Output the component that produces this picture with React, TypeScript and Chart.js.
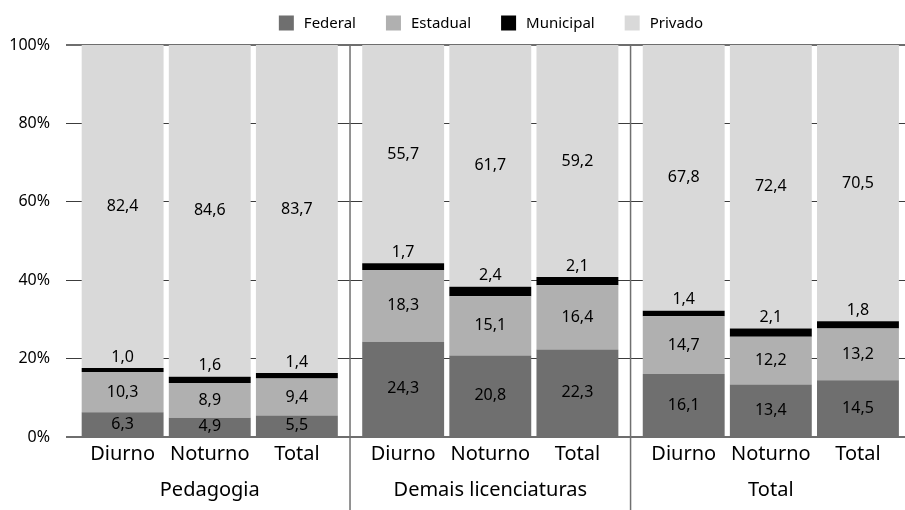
import React, { useEffect, useRef } from 'react';
import { Chart, registerables } from 'chart.js';

Chart.register(...registerables);

// ---- data ----
const groups = ['Pedagogia', 'Demais licenciaturas', 'Total'];
const periods = ['Diurno', 'Noturno', 'Total'];
const seriesNames = ['Federal', 'Estadual', 'Municipal', 'Privado'];
const federal = [6.3, 4.9, 5.5, 24.3, 20.8, 22.3, 16.1, 13.4, 14.5];
const estadual = [10.3, 8.9, 9.4, 18.3, 15.1, 16.4, 14.7, 12.2, 13.2];
const municipal = [1.0, 1.6, 1.4, 1.7, 2.4, 2.1, 1.4, 2.1, 1.8];
const privado = [82.4, 84.6, 83.7, 55.7, 61.7, 59.2, 67.8, 72.4, 70.5];
const yTickValues = [0, 20, 40, 60, 80, 100];

// ---- styling / layout constants ----
const FONT = '"Noto Sans", "Open Sans", sans-serif';
const COLORS = ['#6f6f6f', '#b0b0b0', '#000000', '#d9d9d9'];
const GROUP_GAP = 0.22;
const X_PAD_LEFT = 0.65;
const X_PAD_RIGHT = 0.54;
const W = 905;
const H = 510;

const groupSpan = periods.length + GROUP_GAP;
const xPositions: number[] = [];
const xLabels: string[] = [];
groups.forEach((g, gi) => {
  periods.forEach((p, pi) => {
    xPositions.push(gi * groupSpan + pi);
    xLabels.push(p);
  });
});
const xMin = -X_PAD_LEFT;
const xMax = (groups.length - 1) * groupSpan + periods.length - 1 + X_PAD_RIGHT;

const fmt = (v: number) => v.toFixed(1).replace('.', ',');

const series = [federal, estadual, municipal, privado];

const extrasPlugin = {
  id: 'extras',
  afterDatasetsDraw(chart: any) {
    const ctx = chart.ctx;
    ctx.save();
    ctx.font = `16px ${FONT}`;
    ctx.fillStyle = '#000';
    ctx.textAlign = 'center';
    ctx.textBaseline = 'middle';
    chart.data.datasets.forEach((ds: any, di: number) => {
      const meta = chart.getDatasetMeta(di);
      meta.data.forEach((el: any, i: number) => {
        const { x, y, base } = el.getProps(['x', 'y', 'base'], true);
        const v = series[di][i];
        let ly = (y + base) / 2;
        if (di === 2) ly = y - 11;
        ctx.fillText(fmt(v), x, ly);
      });
    });
    ctx.restore();
  },
  afterDraw(chart: any) {
    const ctx = chart.ctx;
    const xs = chart.scales.x;
    const area = chart.chartArea;
    ctx.save();
    // group separators
    ctx.strokeStyle = '#707070';
    ctx.lineWidth = 1.5;
    for (let gi = 0; gi < groups.length - 1; gi++) {
      const last = gi * groupSpan + periods.length - 1;
      const next = (gi + 1) * groupSpan;
      const px = xs.getPixelForValue((last + next) / 2);
      ctx.beginPath();
      ctx.moveTo(px, area.top);
      ctx.lineTo(px, H);
      ctx.stroke();
    }
    // group labels
    ctx.font = `20px ${FONT}`;
    ctx.fillStyle = '#000';
    ctx.textAlign = 'center';
    ctx.textBaseline = 'middle';
    groups.forEach((g, gi) => {
      const mid = gi * groupSpan + (periods.length - 1) / 2;
      ctx.fillText(g, xs.getPixelForValue(mid), 490);
    });
    // legend
    ctx.font = `15px ${FONT}`;
    const box = 15;
    const gapText = 10;
    const gapItem = 30;
    const widths = seriesNames.map((n) => ctx.measureText(n).width);
    const total = widths.reduce((a, w) => a + box + gapText + w, 0) + gapItem * (seriesNames.length - 1);
    let cx = 491 - total / 2;
    const cy = 23;
    ctx.textAlign = 'left';
    seriesNames.forEach((n, i) => {
      ctx.fillStyle = COLORS[i];
      ctx.fillRect(cx, cy - box / 2, box, box);
      cx += box + gapText;
      ctx.fillStyle = '#000';
      ctx.fillText(n, cx, cy + 0.5);
      cx += widths[i] + gapItem;
    });
    ctx.restore();
  },
};

export default function App() {
  const ref = useRef<HTMLCanvasElement | null>(null);
  useEffect(() => {
    if (!ref.current) return;
    const chart = new Chart(ref.current, {
      type: 'bar',
      data: {
        datasets: seriesNames.map((name, si) => ({
          label: name,
          data: series[si].map((v, i) => ({ x: xPositions[i], y: v })),
          backgroundColor: COLORS[si],
          borderWidth: 0,
          categoryPercentage: 0.94,
          barPercentage: 1,
        })),
      },
      options: {
        responsive: false,
        animation: false,
        events: [],
        layout: { padding: { left: 0, right: 0, top: 45, bottom: 0 } },
        plugins: { legend: { display: false }, tooltip: { enabled: false } },
        scales: {
          x: {
            type: 'linear',
            stacked: true,
            offset: false,
            min: xMin,
            max: xMax,
            grid: { display: false, drawTicks: false, offset: false },
            border: { display: false },
            afterBuildTicks: (scale: any) => {
              scale.ticks = xPositions.map((v) => ({ value: v }));
            },
            afterFit: (scale: any) => {
              scale.height = H - 437;
            },
            ticks: {
              autoSkip: false,
              maxRotation: 0,
              padding: 5,
              color: '#000',
              font: { family: FONT, size: 20 },
              callback: (_v: any, i: number) => xLabels[i],
            },
          },
          y: {
            stacked: true,
            min: 0,
            max: 100,
            z: 1,
            afterBuildTicks: (scale: any) => {
              scale.ticks = yTickValues.map((v) => ({ value: v }));
            },
            afterFit: (scale: any) => {
              scale.width = 66;
            },
            grid: {
              drawTicks: false,
              color: (c: any) => (c.tick && (c.tick.value === 0 || c.tick.value === 100) ? '#6e6e6e' : '#3c3c3c'),
              lineWidth: (c: any) => (c.tick && (c.tick.value === 0 || c.tick.value === 100) ? 2 : 1),
            },
            border: { display: false },
            ticks: {
              padding: 16,
              color: '#000',
              font: { family: FONT, size: 16 },
              callback: (v: any) => `${v}%`,
            },
          },
        },
      },
      plugins: [extrasPlugin],
    });
    return () => chart.destroy();
  }, []);
  return (
    <div style={{ position: 'fixed', left: 0, top: 0, width: W, height: H, background: '#fff' }}>
      <canvas ref={ref} width={W} height={H} style={{ display: 'block' }} />
    </div>
  );
}
